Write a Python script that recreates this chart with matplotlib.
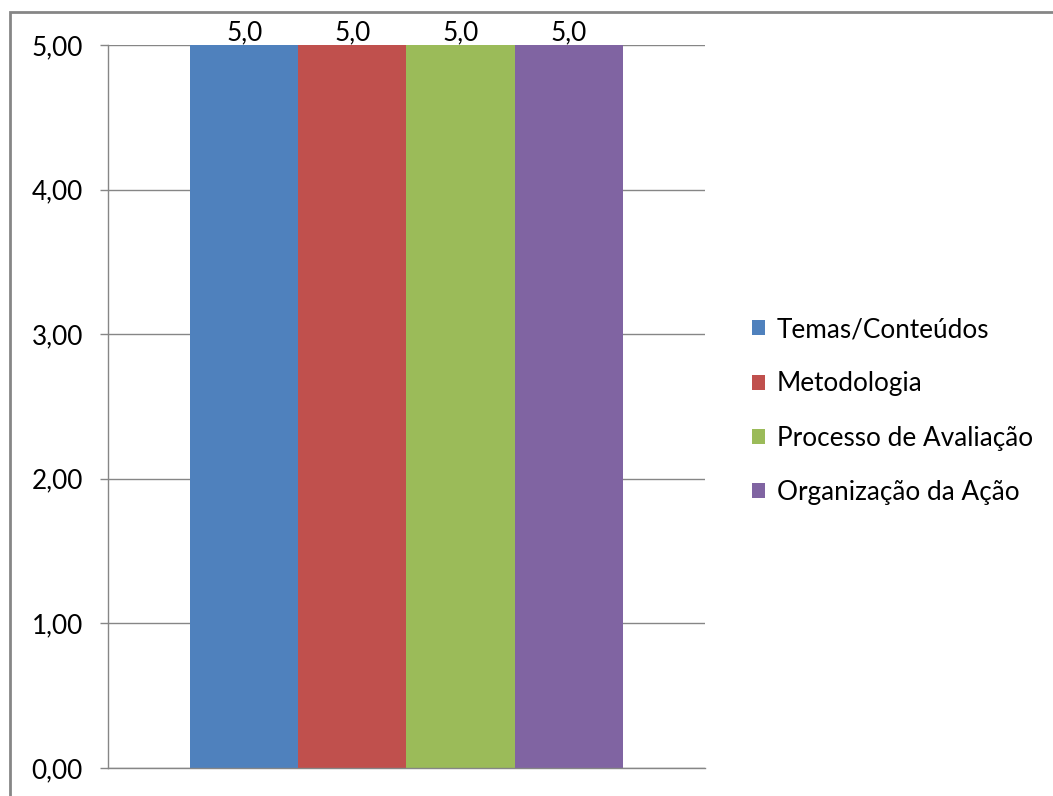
import matplotlib
matplotlib.use("Agg")
import matplotlib.pyplot as plt
from matplotlib.patches import Rectangle
from matplotlib.ticker import FuncFormatter

series = ["Temas/Conteúdos", "Metodologia", "Processo de Avaliação", "Organização da Ação"]
values = [5.0, 5.0, 5.0, 5.0]
colors = ["#4F81BD", "#C0504D", "#9BBB59", "#8064A2"]
yticks = [0, 1, 2, 3, 4, 5]

plt.rcParams['font.family'] = ['Lato', 'DejaVu Sans']
FS = 18.8

fig = plt.figure(figsize=(10.53, 7.96), dpi=100)
ax = fig.add_axes([108/1053, 1-768/796, (705-108)/1053, (768-45)/796])

w = 0.7253 / 4
n = len(series)
handles = []
for i, (s, v, c) in enumerate(zip(series, values, colors)):
    x = (i - (n - 1) / 2) * w
    b = ax.bar(x, v, width=w, color=c, label=s, zorder=3)
    handles.append(b)
    ax.text(x, v, f"{v:.1f}".replace(".", ","), ha="center", va="bottom",
            fontsize=FS, color="#000000", zorder=4)

ax.set_xlim(-0.5, 0.5)
ax.set_ylim(0, 5)
ax.set_yticks(yticks)
ax.yaxis.set_major_formatter(FuncFormatter(lambda v, p: f"{v:.2f}".replace(".", ",")))
ax.set_xticks([])
ax.grid(axis="y", color="#868686", linewidth=1.0, zorder=0)
ax.tick_params(axis="y", length=6, width=1, color="#868686", pad=12, labelsize=FS)
for sp in ["top", "right"]:
    ax.spines[sp].set_visible(False)
for sp in ["left", "bottom"]:
    ax.spines[sp].set_color("#868686")
    ax.spines[sp].set_linewidth(1.0)
ax.spines["bottom"].set_zorder(5)

leg = fig.legend(handles=handles, labels=series, loc="center left",
                 bbox_to_anchor=(734/1053, 1-411/796), frameon=False,
                 fontsize=FS, handlelength=0.5, handleheight=0.5,
                 handletextpad=0.45, labelspacing=1.12, borderpad=0.2)

# chart border (top and left visible)
fig.patches.append(Rectangle((10/1053, -0.05), 1.1, 1 - 12/796 + 0.05,
                             transform=fig.transFigure, fill=False,
                             edgecolor="#868686", linewidth=2))

fig.savefig("out.png", dpi=100)
